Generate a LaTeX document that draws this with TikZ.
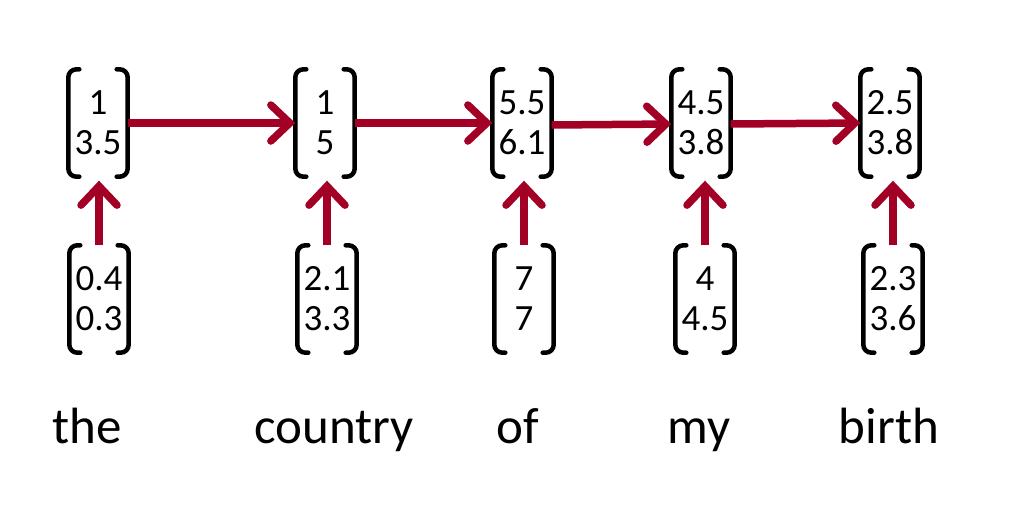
\documentclass[tikz,border=0pt]{standalone}
\usepackage{fontspec}
\setmainfont{Carlito}
\usetikzlibrary{arrows.meta}
\definecolor{myred}{RGB}{163,0,38}
\tikzset{
  vecbox/.style={minimum width=59pt, minimum height=107pt, inner sep=0pt, align=center,
    font={\fontsize{37}{40}\selectfont}},
  brk/.style={draw=black, line width=4.5pt, rounded corners=8pt, line cap=round},
  arr/.style={draw=myred, line width=7.5pt, -{Straight Barb[length=19pt,width=36pt,line cap=round]}},
  word/.style={anchor=base, inner sep=0pt, font={\fontsize{51}{60}\selectfont}}
}
\begin{document}
\begin{tikzpicture}[x=1pt,y=-1pt]
\useasboundingbox (0,0) rectangle (1014,512);
% top vectors
\node[vecbox] (t1) at (98,123) {1\\3.5};
\node[vecbox] (t2) at (325,123) {1\\5};
\node[vecbox] (t3) at (522,123) {5.5\\6.1};
\node[vecbox] (t4) at (701,123) {4.5\\3.8};
\node[vecbox] (t5) at (890,123) {2.5\\3.8};
% bottom vectors
\node[vecbox] (b1) at (99,299) {0.4\\0.3};
\node[vecbox] (b2) at (327,299) {2.1\\3.3};
\node[vecbox] (b3) at (524,299) {7\\7};
\node[vecbox] (b4) at (705,299) {4\\4.5};
\node[vecbox] (b5) at (893,299) {2.3\\3.6};
% brackets
\foreach \n in {t1,t2,t3,t4,t5,b1,b2,b3,b4,b5}{
  \draw[brk] ([xshift=11pt]\n.north west) -- (\n.north west) -- (\n.south west) -- ([xshift=11pt]\n.south west);
  \draw[brk] ([xshift=-11pt]\n.north east) -- (\n.north east) -- (\n.south east) -- ([xshift=-11pt]\n.south east);
}
% horizontal arrows
\draw[arr] (t1.east) -- (t2.west);
\draw[arr] (t2.east) -- (t3.west);
\draw[arr] ([yshift=-2pt]t3.east) -- ([yshift=-1pt]t4.west);
\draw[arr] ([yshift=-1pt]t4.east) -- (t5.west);
% vertical arrows
\foreach \i in {1,...,5}{
  \draw[arr, shorten >=4pt] (b\i.north) -- (b\i.north |- t\i.south);
}
% words
\node[word] (w1) at (87,443) {the};
\node[word] (w2) at (334,443) {country};
\node[word] (w3) at (518,443) {of};
\node[word] (w4) at (699,443) {my};
\node[word] (w5) at (889,443) {birth};
\end{tikzpicture}
\end{document}
